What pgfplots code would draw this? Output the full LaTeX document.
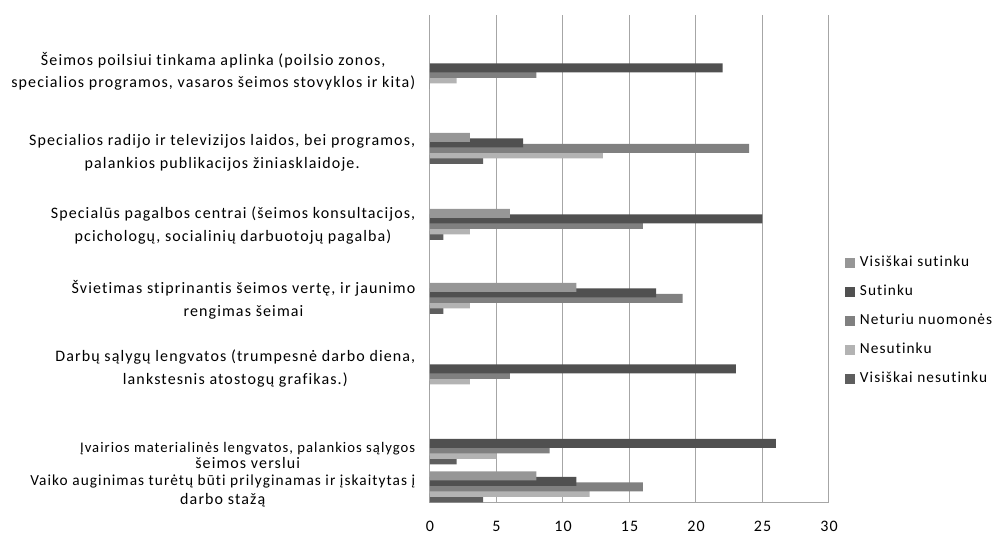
\documentclass[border=0pt]{standalone}
\usepackage{fontspec}
\setmainfont{Carlito}[LetterSpace=7, Ligatures=NoCommon]
\usepackage{pgfplots}
\pgfplotsset{compat=1.18}

\definecolor{cVS}{HTML}{969696}
\definecolor{cSU}{HTML}{505050}
\definecolor{cNE}{HTML}{808080}
\definecolor{cNS}{HTML}{B3B3B3}
\definecolor{cVN}{HTML}{5E5E5E}
\definecolor{gridgray}{HTML}{A6A6A6}

% groups: Vaiko 16, Ivairios 54, Darbu 128.5, Svietimas 204.5,
% Specialus 278.5, Specialios 354.5, Seimos 429.5
\pgfplotstableread{
pos   vs  su  ne  ns  vn
16     8  11  16  12   4
54     0  26   9   5   2
128.5  0  23   6   3   0
204.5 11  17  19   3   1
278.5  6  25  16   3   1
354.5  3   7  24  13   4
429.5  0  22   8   2   0
}\datatable

\begin{document}
\begin{tikzpicture}
\path[use as bounding box] (-322.5pt,-24pt) rectangle (422.25pt,377.25pt);
\begin{axis}[
  at={(0,0)}, anchor=south west,
  scale only axis, width=299.25pt, height=366pt,
  xmin=0, xmax=30, ymin=0, ymax=488,
  xtick={0,5,...,30},
  xmajorgrids,
  grid style={draw=gridgray, line width=0.75pt},
  axis x line*=bottom, axis y line*=left,
  axis line style={draw=gridgray, line width=0.75pt, -},
  major tick length=0pt,
  ytick={12,47.5,134.5,203,277.5,350.5,431.5},
  yticklabels={
    {\fontsize{11.5}{15}\selectfont Vaiko auginimas turėtų būti prilyginamas ir įskaitytas į\\[-3pt]darbo stažą},
    {\fontsize{11}{15}\selectfont Įvairios materialinės lengvatos, palankios sąlygos\\[-4.5pt]šeimos verslui},
    {Darbų sąlygų lengvatos (trumpesnė darbo diena,\\lankstesnis atostogų grafikas.)},
    {Švietimas stiprinantis šeimos vertę, ir jaunimo\\rengimas šeimai},
    {Specialūs pagalbos centrai (šeimos konsultacijos,\\pcichologų, socialinių darbuotojų pagalba)},
    {Specialios radijo ir televizijos laidos, bei programos,\\palankios publikacijos žiniasklaidoje.},
    {Šeimos poilsiui tinkama aplinka (poilsio zonos,\\specialios programos, vasaros šeimos stovyklos ir kita)}
  },
  yticklabel style={align=center, font=\fontsize{12}{17}\selectfont, xshift=-7.5pt},
  xticklabel style={font=\fontsize{12}{14}\selectfont, yshift=-10pt},
  /pgf/number format/assume math mode=true,
  xbar, bar width=9,
  legend image code/.code={\fill[#1] (0pt,-3.75pt) rectangle (7.5pt,3.75pt);},
  reverse legend,
  legend cell align=left,
  legend style={at={(1.04,0.5055)}, anchor=north west, draw=none, fill=none,
    inner sep=0pt, outer sep=0pt,
    font=\fontsize{11.5}{14}\selectfont, row sep=11.75pt,
    nodes={inner sep=0pt, text height=7.5pt, text depth=2.5pt},
    /tikz/every odd column/.append style={column sep=3.75pt}},
]
\addplot[fill=cVN, draw=none, bar shift=-11] table[x=vn, y=pos] {\datatable};
\addplot[fill=cNS, draw=none, bar shift=-5.5] table[x=ns, y=pos] {\datatable};
\addplot[fill=cNE, draw=none, bar shift=0] table[x=ne, y=pos] {\datatable};
\addplot[fill=cSU, draw=none, bar shift=5.5] table[x=su, y=pos] {\datatable};
\addplot[fill=cVS, draw=none, bar shift=11] table[x=vs, y=pos] {\datatable};
\legend{Visiškai nesutinku, Nesutinku, Neturiu nuomonės, Sutinku, Visiškai sutinku}
\end{axis}
\end{tikzpicture}
\end{document}
